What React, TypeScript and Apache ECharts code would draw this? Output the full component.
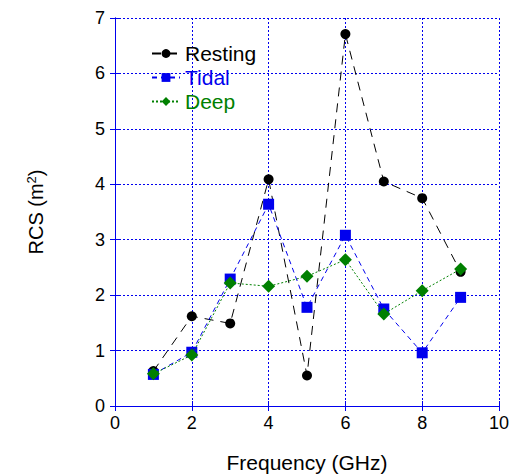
import React, { useEffect, useRef } from "react";
import * as echarts from "echarts";

const frequencies = [1, 2, 3, 4, 5, 6, 7, 8, 9];
const resting = [0.63, 1.62, 1.49, 4.09, 0.55, 6.71, 4.05, 3.75, 2.42];
const tidal = [0.57, 0.97, 2.29, 3.64, 1.78, 3.08, 1.75, 0.96, 1.96];
const deep = [0.58, 0.92, 2.22, 2.16, 2.34, 2.64, 1.66, 2.08, 2.47];

const BLUE = "#0000ee";
const GREEN = "#008000";
const FONT = "Liberation Sans, Arial, sans-serif";

export default function App() {
  const ref = useRef<HTMLDivElement>(null);
  useEffect(() => {
    if (!ref.current) return;
    const chart = echarts.init(ref.current, null, { renderer: "svg" });
    const pair = (ys: number[]) => frequencies.map((x, i) => [x, ys[i]]);
    const axisCommon = {
      axisLine: { show: true, lineStyle: { color: BLUE, width: 1 } },
      axisTick: { show: true, inside: true, length: 5, lineStyle: { color: BLUE } },
    };
    chart.setOption({
      animation: false,
      backgroundColor: "#ffffff",
      textStyle: { fontFamily: FONT },
      grid: {
        left: 115,
        top: 18,
        width: 384,
        height: 388,
        containLabel: false,
        outerBoundsMode: "none",
      },
      legend: {
        left: 146,
        top: 38,
        orient: "vertical",
        itemGap: 3,
        itemWidth: 28,
        itemHeight: 11,
        textStyle: { fontSize: 21, fontFamily: FONT },
        data: [
          { name: "Resting", textStyle: { color: "#000000" } },
          { name: "Tidal", textStyle: { color: BLUE } },
          { name: "Deep", textStyle: { color: GREEN } },
        ],
      },
      xAxis: [
        {
          type: "value",
          min: 0,
          max: 10,
          interval: 2,
          position: "bottom",
          ...axisCommon,
          axisLabel: { color: "#000", fontSize: 18, fontFamily: FONT, margin: 8 },
          splitLine: { show: true, lineStyle: { color: BLUE, type: [2, 2], width: 1 } },
          name: "Frequency (GHz)",
          nameLocation: "middle",
          nameGap: 46,
          nameTextStyle: { color: "#000", fontSize: 21, fontFamily: FONT },
        },
        {
          type: "value",
          min: 0,
          max: 10,
          interval: 2,
          position: "top",
          ...axisCommon,
          axisLabel: { show: false },
          splitLine: { show: false },
        },
      ],
      yAxis: [
        {
          type: "value",
          min: 0,
          max: 7,
          interval: 1,
          position: "left",
          ...axisCommon,
          axisLabel: { color: "#000", fontSize: 18, fontFamily: FONT, margin: 10 },
          splitLine: { show: true, lineStyle: { color: BLUE, type: [2, 2], width: 1 } },
          name: "{a|RCS (m}{s|2}{a|)}",
          nameLocation: "middle",
          nameGap: 68,
          nameRotate: 90,
          nameTextStyle: {
            color: "#000",
            fontFamily: FONT,
            rich: {
              a: { fontSize: 20, fontFamily: FONT, color: "#000" },
              s: { fontSize: 13, fontFamily: FONT, color: "#000", verticalAlign: "top", padding: [0, 0, 9, 0] },
            },
          },
        },
        {
          type: "value",
          min: 0,
          max: 7,
          interval: 1,
          position: "right",
          ...axisCommon,
          axisLabel: { show: false },
          splitLine: { show: false },
        },
      ],
      series: [
        {
          name: "Resting",
          type: "line",
          data: pair(resting),
          symbol: "circle",
          symbolSize: 10,
          itemStyle: { color: "#000000" },
          lineStyle: { color: "#000000", width: 1, type: [9, 7] },
          z: 2,
        },
        {
          name: "Tidal",
          type: "line",
          data: pair(tidal),
          symbol: "rect",
          symbolSize: 11,
          itemStyle: { color: BLUE },
          lineStyle: { color: BLUE, width: 1, type: [5, 4] },
          z: 3,
        },
        {
          name: "Deep",
          type: "line",
          data: pair(deep),
          symbol: "diamond",
          symbolSize: 13,
          itemStyle: { color: GREEN },
          lineStyle: { color: GREEN, width: 1, type: [2, 2] },
          z: 4,
        },
      ],
    });
    return () => chart.dispose();
  }, []);
  return (
    <div
      ref={ref}
      style={{ position: "fixed", left: 0, top: 0, width: 515, height: 475, background: "#fff" }}
    />
  );
}
